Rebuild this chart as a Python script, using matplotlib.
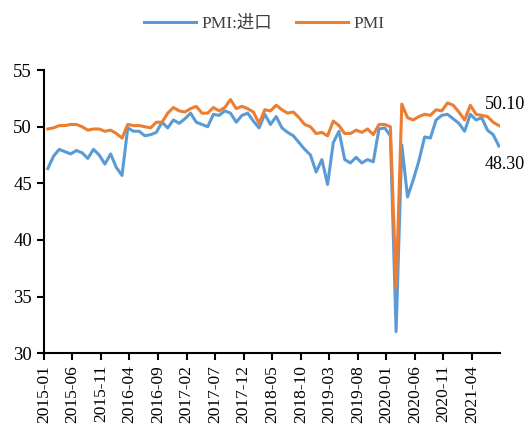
import pandas as pd
import matplotlib
matplotlib.use('Agg')
import matplotlib.pyplot as plt

# Данные: помесячно с 2015-01 по 2021-08
months = pd.date_range('2015-01', periods=80, freq='MS').strftime('%Y-%m').tolist()

pmi_import = [46.3, 47.4, 48.0, 47.8, 47.6, 47.9, 47.7, 47.2, 48.0, 47.5, 46.7, 47.6,
              46.4, 45.7, 49.9, 49.6, 49.6, 49.2, 49.3, 49.5, 50.4, 49.9, 50.6, 50.3,
              50.7, 51.2, 50.4, 50.2, 50.0, 51.1, 51.0, 51.4, 51.2, 50.4, 51.0, 51.2,
              50.5, 49.9, 51.1, 50.2, 50.9, 49.9, 49.5, 49.2, 48.6, 48.0, 47.5, 46.0,
              47.1, 44.9, 48.6, 49.6, 47.1, 46.8, 47.3, 46.8, 47.1, 46.9, 49.8, 49.9,
              49.2, 31.9, 48.4, 43.8, 45.3, 47.0, 49.1, 49.0, 50.6, 51.0, 51.1, 50.7,
              50.3, 49.6, 51.1, 50.6, 50.8, 49.7, 49.3, 48.3]

pmi = [49.8, 49.9, 50.1, 50.1, 50.2, 50.2, 50.0, 49.7, 49.8, 49.8, 49.6, 49.7,
       49.4, 49.0, 50.2, 50.1, 50.1, 50.0, 49.9, 50.4, 50.4, 51.2, 51.7, 51.4,
       51.3, 51.6, 51.8, 51.2, 51.2, 51.7, 51.4, 51.7, 52.4, 51.6, 51.8, 51.6,
       51.3, 50.3, 51.5, 51.4, 51.9, 51.5, 51.2, 51.3, 50.8, 50.2, 50.0, 49.4,
       49.5, 49.2, 50.5, 50.1, 49.4, 49.4, 49.7, 49.5, 49.8, 49.3, 50.2, 50.2,
       50.0, 35.7, 52.0, 50.8, 50.6, 50.9, 51.1, 51.0, 51.5, 51.4, 52.1, 51.9,
       51.3, 50.6, 51.9, 51.1, 51.0, 50.9, 50.4, 50.1]

plt.rcParams['font.family'] = ['Liberation Serif', 'Noto Sans CJK SC']

fig = plt.figure(figsize=(5.28, 4.25), dpi=100)
ax = fig.add_axes([0.083, 0.169, 0.864, 0.666])

x = list(range(len(months)))
ax.plot(x, pmi_import, color='#5B9BD5', lw=2.2, label='PMI:进口')
ax.plot(x, pmi, color='#ED7D31', lw=2.2, label='PMI')

# Подписи последних значений
ax.text(x[-1] - 2.5, pmi[-1] + 1.9, f'{pmi[-1]:.2f}', fontsize=13, ha='left', va='center')
ax.text(x[-1] - 2.5, pmi_import[-1] - 1.6, f'{pmi_import[-1]:.2f}', fontsize=13, ha='left', va='center')

ax.set_ylim(30, 55)
ax.set_yticks(range(30, 56, 5))
ax.set_xlim(-0.7, 79.2)
ticks = list(range(0, len(months), 5))
ax.set_xticks([t - 0.7 for t in ticks])
ax.set_xticklabels([months[t] for t in ticks], rotation=90)

for s in ['top', 'right']:
    ax.spines[s].set_visible(False)
for s in ['left', 'bottom']:
    ax.spines[s].set_linewidth(1.5)
ax.tick_params(axis='y', direction='out', length=5, width=1.5, labelsize=13.5)
ax.tick_params(axis='x', direction='out', length=5, width=1.5, labelsize=12.5)

fig.legend(loc='upper center', bbox_to_anchor=(0.5, 1.0), ncol=2, frameon=False,
           fontsize=12.5, handlelength=3.0, handletextpad=0.3, columnspacing=1.4,
           labelcolor='#404040')

fig.savefig('out.png', dpi=100)
